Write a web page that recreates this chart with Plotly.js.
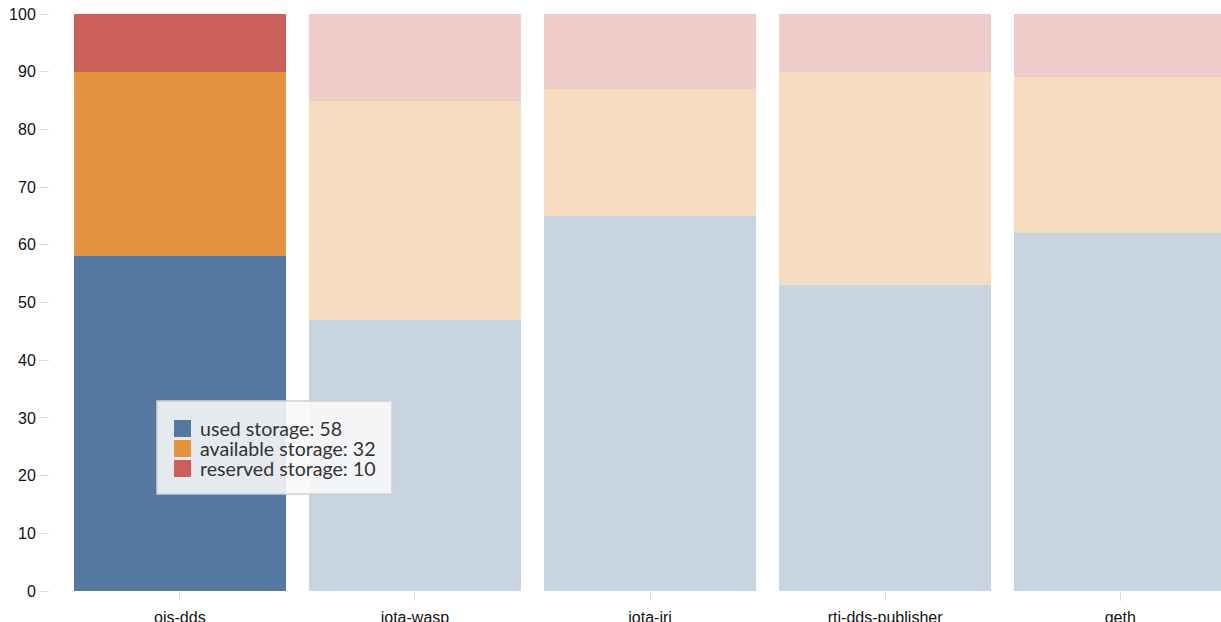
<!DOCTYPE html>
<html>
<head>
<meta charset="utf-8">
<script src="https://cdn.plot.ly/plotly-3.0.1.min.js"></script>
<style>
  html, body { margin: 0; padding: 0; overflow: hidden; background: #fff; }
  #chart { width: 1221px; height: 622px; }
</style>
</head>
<body>
<div id="chart"></div>
<script>
// ---- data ----
const categories = ['ois-dds', 'iota-wasp', 'iota-iri', 'rti-dds-publisher', 'geth'];
const usedStorage = [58, 47, 65, 53, 62];
const availableStorage = [32, 38, 22, 37, 27];
const reservedStorage = [10, 15, 13, 10, 11];
const seriesNames = ['used storage', 'available storage', 'reserved storage'];
const yTicks = [0, 10, 20, 30, 40, 50, 60, 70, 80, 90, 100];
const highlighted = 'ois-dds';

// ---- styling ----
const colors = ['#5578a0', '#e3923f', '#cd5f59'];
const fadedOpacity = 0.32;
const W = 1221, H = 622;
const M = { l: 50, r: 0, t: 14, b: 31 };
const plotW = W - M.l - M.r, plotH = H - M.t - M.b;
const pxPerCat = 235.1;
const firstCenterPx = 179.85;
const r0 = -(firstCenterPx - M.l) / pxPerCat;
const r1 = r0 + plotW / pxPerCat;

const seriesValues = [usedStorage, availableStorage, reservedStorage];
const hi = categories.indexOf(highlighted);
const opac = categories.map((c, i) => i === hi ? 1 : fadedOpacity);

const traces = seriesValues.map((vals, k) => ({
  type: 'bar',
  x: categories,
  y: vals,
  name: seriesNames[k],
  marker: { color: colors[k], opacity: opac, line: { width: 0 } },
  hoverinfo: 'none'
}));

// tooltip-like box (pixel helpers -> paper coords)
const px = x => (x - M.l) / plotW;
const py = y => (H - M.b - y) / plotH;
const box = { x0: 157, y0: 401, x1: 392, y1: 494 };
const shapes = [{
  type: 'rect', xref: 'paper', yref: 'paper', layer: 'above',
  x0: px(box.x0), x1: px(box.x1), y0: py(box.y1), y1: py(box.y0),
  fillcolor: 'rgba(249,249,249,0.88)', line: { color: '#cfcfcf', width: 1.5 }
}];
const annotations = [];
seriesNames.forEach((n, k) => {
  const top = 420 + k * 20;
  shapes.push({
    type: 'rect', xref: 'paper', yref: 'paper', layer: 'above',
    x0: px(174), x1: px(191), y0: py(top + 17), y1: py(top),
    fillcolor: colors[k], line: { width: 0 }
  });
  annotations.push({
    xref: 'paper', yref: 'paper', x: px(197.5), y: py(top + 8.5),
    xanchor: 'left', yanchor: 'middle', showarrow: false,
    text: n + ': ' + seriesValues[k][hi],
    font: { family: 'Lato, sans-serif', size: 19.6, color: '#333' }
  });
});

const layout = {
  width: W, height: H,
  margin: M,
  barmode: 'stack',
  bargap: 0.1,
  showlegend: false,
  paper_bgcolor: '#fff', plot_bgcolor: '#fff',
  font: { family: '"Liberation Sans", Arial, sans-serif', size: 16, color: '#111' },
  xaxis: {
    type: 'category', range: [r0, r1],
    showgrid: false, zeroline: false, showline: false,
    ticks: 'outside', ticklen: 9, tickcolor: '#dddddd', tickwidth: 1,
    ticklabelstandoff: 3,
    tickfont: { size: 16, color: '#111' }
  },
  yaxis: {
    range: [0, 100], tickvals: yTicks,
    showgrid: false, zeroline: false, showline: false,
    ticks: 'outside', ticklen: 10, tickcolor: '#dddddd', tickwidth: 1,
    tickfont: { size: 16, color: '#111' }
  },
  shapes: shapes,
  annotations: annotations
};

Plotly.newPlot('chart', traces, layout, { displayModeBar: false, staticPlot: true });
</script>
</body>
</html>
